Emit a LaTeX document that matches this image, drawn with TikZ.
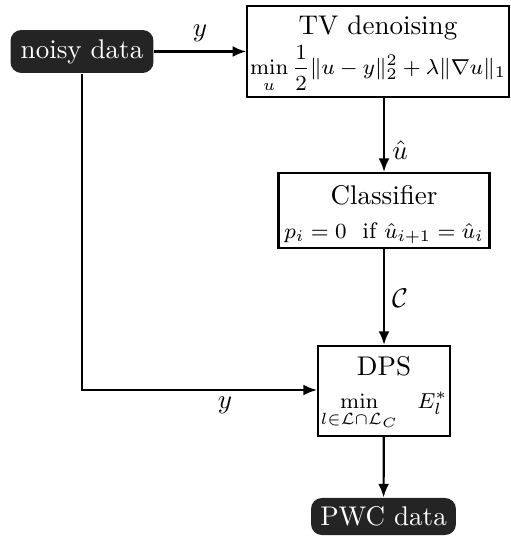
\documentclass[tikz,border=0pt]{standalone}
\usetikzlibrary{arrows.meta}
\newcommand{\fsm}{\fontsize{8.3}{10}\selectfont}
\begin{document}
\begin{tikzpicture}[x=0.37pt,y=-0.37pt,
  box/.style={draw,line width=0.8pt,align=center,inner sep=1pt},
  term/.style={fill=black!86,text=white,rounded corners=4pt,inner sep=1pt},
  arr/.style={line width=0.8pt,-{Latex[length=5pt,width=4pt]}},
  lbl/.style={inner sep=0pt}]
\useasboundingbox (0,0) rectangle (510,538);
\node[term,minimum width=52.9pt,minimum height=15.9pt] (noisy) at (82,51.5) {noisy data};
\node[box,minimum width=96.2pt,minimum height=33.7pt] (tv) at (378,51.5)
  {\rule{0pt}{9pt}TV denoising\\[1pt] {\fsm $\displaystyle\min_u \frac12\|u-y\|_2^2+\lambda\|\nabla u\|_1$}};
\node[box,minimum width=78.1pt,minimum height=27.7pt] (cls) at (384,210.5)
  {\rule{0pt}{10pt}Classifier\\[0.5pt] {\fsm $p_i=0\ \ \mbox{if}\ \hat u_{i+1}=\hat u_i$}};
\node[box,minimum width=47.4pt,minimum height=33.3pt] (dps) at (384,391)
  {\rule{0pt}{9pt}DPS\\[0pt] {\fsm $\displaystyle\min_{l\in\mathcal{L}\cap\mathcal{L}_C}\ \ E_l^*$}};
\node[term,minimum width=53.6pt,minimum height=13.7pt] (pwc) at (383.5,516.5) {PWC data};
\coordinate (bend) at (82,390);
\draw[arr] (noisy) -- (tv);
\draw[arr] (cls.north |- tv.south) -- (cls.north);
\draw[arr] (cls) -- (dps);
\draw[arr] (noisy.south) -- (bend) -- (dps.west |- bend);
\draw[arr] (dps) -- (pwc);
\node[lbl] (ly1) at (200,33) {$y$};
\node[lbl] (lu) at (400,150) {$\hat u$};
\node[lbl] (lc) at (400,298) {$\mathcal{C}$};
\node[lbl] (ly2) at (225,405) {$y$};
\end{tikzpicture}
\end{document}
